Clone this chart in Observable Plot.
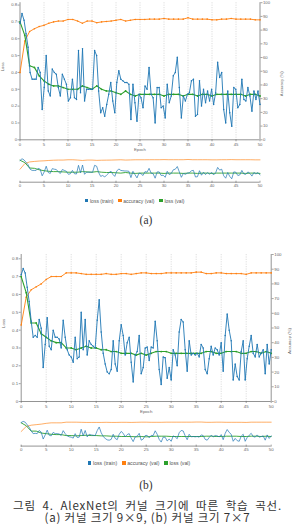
<!DOCTYPE html>
<html><head><meta charset="utf-8">
<script src="https://cdn.jsdelivr.net/npm/d3@7"></script>
<script src="https://cdn.jsdelivr.net/npm/@observablehq/plot@0.6"></script>
<style>
body{margin:0;background:#fff;}
#root{position:relative;width:292px;height:525px;overflow:hidden;background:#fff;font-family:"Liberation Sans",sans-serif;}
.legend{position:absolute;display:flex;align-items:center;font-size:5px;color:#555;white-space:nowrap;}
.legend span.sw{display:inline-block;width:3.4px;height:3.4px;margin-right:1.6px;}
.legend span.it{margin-right:5px;display:flex;align-items:center;}
.sub{position:absolute;width:292px;text-align:center;font-family:"Liberation Serif","DejaVu Serif",serif;font-size:11.5px;line-height:13px;color:#333;}
.cap{position:absolute;left:13px;width:269px;text-align:justify;text-align-last:center;word-break:keep-all;font-family:"Noto Sans CJK KR",sans-serif;font-size:11.5px;letter-spacing:0.8px;line-height:12.7px;color:#333;}
</style></head><body><div id="root"></div>
<script>
// ---------- data ----------
const epochTicks = [0,5,10,15,20,25,30,35,40,45,50];
const lossTicks = [0,0.1,0.2,0.3,0.4,0.5,0.6,0.7,0.8];
const accTicks = [0,10,20,30,40,50,60,70,80,90,100];
const seriesNames = ["loss (train)","accuracy (val)","loss (val)"];
const seriesColors = ["#1f77b4","#ff7f0e","#2ca02c"];

// (a) kernel 9x9
const trainLossA = [0.69,0.75,0.71,0.63,0.55,0.40,0.36,0.36,0.36,0.43,0.40,0.18,0.31,0.50,0.29,0.26,0.42,0.40,0.39,0.31,
0.26,0.39,0.36,0.33,0.23,0.25,0.36,0.25,0.24,0.53,0.28,0.54,0.23,0.30,0.30,0.30,0.30,0.53,0.50,0.29,
0.16,0.19,0.14,0.21,0.27,0.34,0.23,0.16,0.34,0.41,0.36,0.35,0.34,0.34,0.33,0.12,0.33,0.22,0.11,0.27,
0.25,0.19,0.32,0.30,0.43,0.27,0.25,0.10,0.31,0.31,0.19,0.20,0.13,0.33,0.22,0.26,0.38,0.40,0.49,0.31,
0.13,0.26,0.23,0.27,0.28,0.35,0.36,0.14,0.15,0.35,0.20,0.30,0.22,0.29,0.23,0.30,0.21,0.28,0.46,0.37,
0.40,0.18,0.10,0.29,0.16,0.08,0.31,0.30,0.19,0.21,0.36,0.24,0.23,0.31,0.26,0.17,0.29,0.24,0.29,0.21];
const accValA = [49,72,79,81,82.6,83.5,85,86,86.6,86.6,87.8,87.8,86.6,85,86.6,86.6,85.4,86,86.3,86.6,87.2,87.8,86.6,87.2,87.8,87.8,87.8,
88,88,88,88.5,88,88,88,88,89,88,88,88,88,87.5,87.5,88,88,88.5,88,88,88,88,87.5,87.5];
const valLossA = [0.70,0.62,0.44,0.43,0.38,0.35,0.33,0.32,0.32,0.31,0.30,0.30,0.30,0.32,0.31,0.30,0.32,0.30,0.29,0.29,0.28,0.27,0.29,0.27,0.26,0.27,0.27,
0.27,0.27,0.27,0.26,0.27,0.27,0.27,0.26,0.27,0.27,0.26,0.27,0.27,0.26,0.27,0.27,0.27,0.27,0.27,0.27,0.26,0.27,0.27,0.26];

// (b) kernel 7x7
const trainLossB = [0.71,0.745,0.72,0.64,0.56,0.45,0.36,0.37,0.36,0.46,0.41,0.19,0.32,0.47,0.31,0.29,0.40,0.36,0.36,0.35,
0.30,0.455,0.36,0.29,0.26,0.25,0.22,0.36,0.24,0.25,0.50,0.29,0.46,0.26,0.34,0.32,0.31,0.30,0.455,0.57,
0.39,0.27,0.21,0.165,0.155,0.18,0.34,0.21,0.17,0.34,0.43,0.37,0.26,0.33,0.36,0.22,0.11,0.26,0.28,0.37,
0.155,0.19,0.30,0.305,0.23,0.305,0.30,0.45,0.34,0.18,0.095,0.25,0.245,0.13,0.19,0.12,0.29,0.26,0.20,0.39,
0.46,0.445,0.29,0.17,0.34,0.26,0.27,0.26,0.27,0.25,0.32,0.30,0.18,0.155,0.24,0.31,0.26,0.30,0.29,0.26,
0.33,0.17,0.37,0.49,0.40,0.34,0.12,0.21,0.14,0.12,0.28,0.34,0.12,0.24,0.31,0.37,0.27,0.25,0.32,0.25,
0.27,0.29,0.155,0.32,0.21,0.29];
const accValB = [52,71,76,78,80,83,85,85,85,87.5,87.5,87.5,87,86.5,86.5,86.5,86.5,87,86.5,86.5,87,87,86.5,87,87.5,87.5,
87,87,87,87.5,87.5,87.5,87.5,87.5,87.5,88,88,87,87,87.5,87.5,87,87,87,87,86.5,87.5,87.5,87.5,87.5,87.5];
const valLossB = [0.70,0.61,0.44,0.44,0.38,0.36,0.34,0.33,0.33,0.30,0.30,0.29,0.30,0.31,0.30,0.30,0.29,0.29,0.28,0.28,0.27,0.27,0.27,0.26,0.27,0.26,
0.27,0.28,0.28,0.28,0.27,0.27,0.27,0.27,0.27,0.27,0.27,0.28,0.28,0.27,0.27,0.28,0.28,0.28,0.27,0.27,0.28,0.28,0.27,0.28,0.27];

// caption (NBSP keeps "(a) 커널" together so the first line wraps after "곡선.")
const caption = "그림 4. AlexNet의 커널 크기에 따른 학습 곡선. (a)\u00a0커널 크기 9×9, (b) 커널 크기 7×7";

// ---------- helpers ----------
const AX = "#666";
function build(train, acc, val, k){
  const n = train.length;
  const tr = train.map((v,i)=>({x: i*50/(n-1), y: v}));
  const ac = acc.map((v,i)=>({x: i, y: v*k}));
  const vl = val.map((v,i)=>({x: i, y: v}));
  return {tr, ac, vl};
}
function mainChart(d, o){
  const ymax = 100*o.k;
  return Plot.plot({
    width: 292, height: o.height,
    marginLeft: o.ml, marginRight: o.mr, marginTop: o.mt, marginBottom: o.mb,
    style: {background:"transparent", color: AX, fontFamily:"Liberation Sans, sans-serif", overflow:"visible"},
    x: {domain:[0,50], axis:null},
    y: {domain:[0,ymax], axis:null},
    marks: [
      Plot.ruleX(epochTicks.slice(1,-1), {stroke:"#c8c8c8", strokeWidth:0.6, strokeDasharray:"1.2,1.2"}),
      Plot.ruleX([0,50], {stroke: AX, strokeWidth:0.7}),
      Plot.ruleY([0], {stroke: AX, strokeWidth:0.7}),
      Plot.axisY(lossTicks, {anchor:"left", tickSize:2, tickPadding:1, fontSize:o.fs, label:null, tickFormat: v => v===0 ? "0" : v.toFixed(1), strokeWidth:0.6}),
      Plot.axisY(accTicks.map(v=>v*o.k), {anchor:"right", tickSize:2, tickPadding:1, fontSize:o.fs, label:null, tickFormat: v => String(Math.round(v/o.k)), strokeWidth:0.6}),
      Plot.axisX(epochTicks, {anchor:"bottom", tickSize:2, tickPadding:1, fontSize:o.fs, label:null, strokeWidth:0.6}),
      Plot.text(["Epoch"], {frameAnchor:"bottom", dy: o.epochDy, fontSize:o.fs, fill:AX}),
      Plot.text(["Loss"], {frameAnchor:"left", dx: -o.lossDx, rotate:-90, fontSize:o.fs, fill:AX}),
      Plot.text(["Accuracy (%)"], {frameAnchor:"right", dx: o.accDx, rotate:-90, fontSize:o.fs, fill:AX}),
      Plot.line(d.ac, {x:"x", y:"y", stroke:seriesColors[1], strokeWidth:0.9}),
      Plot.dot(d.ac, {x:"x", y:"y", r:0.8, fill:seriesColors[1]}),
      Plot.line(d.vl, {x:"x", y:"y", stroke:seriesColors[2], strokeWidth:1.1}),
      Plot.dot(d.vl, {x:"x", y:"y", r:0.9, fill:seriesColors[2]}),
      Plot.line(d.tr, {x:"x", y:"y", stroke:seriesColors[0], strokeWidth:0.9}),
      Plot.dot(d.tr, {x:"x", y:"y", r:0.75, fill:seriesColors[0]})
    ]
  });
}
function miniChart(d, o){
  const ymax = 100*o.k;
  return Plot.plot({
    width: 292, height: o.height,
    marginLeft: o.ml, marginRight: o.mr, marginTop: o.mt, marginBottom: o.mb,
    style: {background:"transparent", color: AX, fontFamily:"Liberation Sans, sans-serif", overflow:"visible"},
    x: {domain:[0,50], axis:null},
    y: {domain:[0,ymax], axis:null},
    marks: [
      Plot.axisX(epochTicks, {anchor:"bottom", tickSize:2, tickPadding:1, fontSize:o.fs, label:null, strokeWidth:0.6}),
      Plot.ruleY([0], {stroke: AX, strokeWidth:0.7, dy: 1}),
      Plot.line(d.ac, {x:"x", y:"y", stroke:seriesColors[1], strokeWidth:0.8, strokeOpacity:0.8}),
      Plot.line(d.vl, {x:"x", y:"y", stroke:seriesColors[2], strokeWidth:0.9}),
      Plot.line(d.tr, {x:"x", y:"y", stroke:seriesColors[0], strokeWidth:0.7})
    ]
  });
}
function place(el, top, left=0){
  el.style.position = "absolute";
  el.style.top = top + "px";
  el.style.left = left + "px";
  document.getElementById("root").appendChild(el);
}
function legend(top, left, fs){
  const div = document.createElement("div");
  div.className = "legend";
  div.style.top = top + "px"; div.style.left = left + "px"; div.style.fontSize = fs + "px";
  seriesNames.forEach((name,i)=>{
    const it = document.createElement("span"); it.className = "it";
    const sw = document.createElement("span"); sw.className = "sw"; sw.style.background = seriesColors[i];
    it.appendChild(sw); it.appendChild(document.createTextNode(name));
    div.appendChild(it);
  });
  document.getElementById("root").appendChild(div);
}
function textDiv(cls, top, txt){
  const div = document.createElement("div");
  div.className = cls; div.style.top = top + "px"; div.textContent = txt;
  document.getElementById("root").appendChild(div);
  return div;
}

// ---------- panel (a) ----------
const kA = 0.008142, kB = 0.00824;
const dA = build(trainLossA, accValA, valLossA, kA);
place(mainChart(dA, {k:kA, height:156.5, ml:19.5, mr:32.5, mt:2.2, mb:17.2, fs:4.2, epochDy:11, lossDx:17, accDx:21.5}), 0);
place(miniChart(dA, {k:kA, height:40, ml:19.5, mr:32.5, mt:4.3, mb:11.3, fs:4.2}), 152);
legend(197.5, 85, 5);
textDiv("sub", 213.5, "(a)");

// ---------- panel (b) ----------
const dB = build(trainLossB, accValB, valLossB, kB);
place(mainChart(dB, {k:kB, height:164, ml:20.7, mr:21.3, mt:0, mb:17, fs:4.4, epochDy:11.5, lossDx:17.5, accDx:18.8}), 254);
place(miniChart(dB, {k:kB, height:42, ml:20.7, mr:21.3, mt:4.4, mb:11.4, fs:4.4}), 414);
legend(460, 88, 5.2);
textDiv("sub", 478.5, "(b)");
textDiv("cap", 498.5, caption);
</script></body></html>
